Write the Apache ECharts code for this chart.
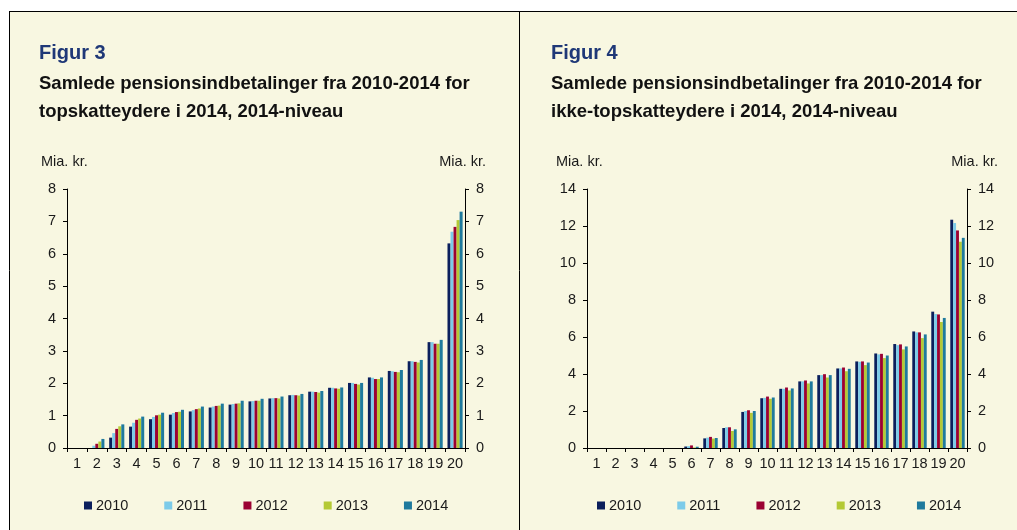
<!DOCTYPE html>
<html><head><meta charset="utf-8">
<script src="https://cdn.jsdelivr.net/npm/echarts@6/dist/echarts.min.js"></script>
<style>html,body{margin:0;padding:0;background:#fff}#c{width:1017px;height:530px}</style>
</head><body><div id="c"></div>
<script>
var categories = ['1','2','3','4','5','6','7','8','9','10','11','12','13','14','15','16','17','18','19','20'];
var years = ['2010','2011','2012','2013','2014'];
var colors = ['#0B1F5C','#7CCBE9','#9B0132','#B4C935','#1F7A9D'];

// Figur 3: topskatteydere (Mia. kr.)
var top2010 = [0,0.00,0.32,0.66,0.89,1.03,1.13,1.25,1.34,1.44,1.53,1.63,1.74,1.86,2.01,2.18,2.38,2.68,3.27,6.32];
var top2011 = [0,0.07,0.46,0.78,0.96,1.08,1.17,1.28,1.36,1.45,1.54,1.64,1.74,1.86,2.01,2.17,2.37,2.68,3.27,6.68];
var top2012 = [0,0.13,0.59,0.87,1.01,1.11,1.20,1.30,1.37,1.46,1.54,1.63,1.73,1.84,1.98,2.13,2.35,2.66,3.22,6.83];
var top2013 = [0,0.20,0.67,0.91,1.03,1.12,1.22,1.31,1.38,1.46,1.53,1.62,1.71,1.83,1.96,2.13,2.34,2.64,3.22,7.04];
var top2014 = [0,0.28,0.73,0.97,1.09,1.18,1.28,1.37,1.46,1.52,1.59,1.67,1.76,1.87,2.01,2.18,2.41,2.72,3.34,7.30];

// Figur 4: ikke-topskatteydere (Mia. kr.)
var ikke2010 = [0,0,0,0,0,0.08,0.52,1.08,1.95,2.69,3.20,3.60,3.94,4.30,4.68,5.11,5.62,6.30,7.37,12.34];
var ikke2011 = [0,0,0,0,0,0.10,0.56,1.12,2.00,2.71,3.20,3.60,3.94,4.30,4.66,5.06,5.56,6.25,7.24,12.16];
var ikke2012 = [0,0,0,0,0,0.14,0.60,1.12,2.04,2.78,3.27,3.65,3.99,4.35,4.68,5.09,5.60,6.25,7.22,11.76];
var ikke2013 = [0,0,0,0,0,0.03,0.51,0.92,1.90,2.66,3.11,3.49,3.81,4.15,4.48,4.86,5.33,5.94,6.81,11.15];
var ikke2014 = [0,0,0,0,0,0.07,0.54,1.01,2.00,2.73,3.22,3.60,3.94,4.28,4.62,5.00,5.49,6.14,7.03,11.36];

var topSeries = [top2010, top2011, top2012, top2013, top2014];
var ikkeSeries = [ikke2010, ikke2011, ikke2012, ikke2013, ikke2014];

var FF = 'Liberation Sans, Arial, sans-serif';
var chart = echarts.init(document.getElementById('c'), null, {renderer:'canvas'});

function xAxis(gi){
  return {type:'category', gridIndex:gi, data:categories, boundaryGap:true,
    axisLine:{lineStyle:{color:'#000',width:1}},
    axisTick:{show:true, alignWithLabel:false, length:4, lineStyle:{color:'#000'}},
    axisLabel:{color:'#1a1a1a', fontSize:14.5, fontFamily:FF, margin:8, interval:0}};
}
function yAxis(gi, max, interval, pos){
  return {type:'value', gridIndex:gi, min:0, max:max, interval:interval, position:pos,
    splitLine:{show:false},
    axisLine:{show:true, lineStyle:{color:'#000',width:1}},
    axisTick:{show:true, length:4, lineStyle:{color:'#000'}},
    axisLabel:{color:'#1a1a1a', fontSize:14.5, fontFamily:FF, margin:11}};
}

var series = [];
years.forEach(function(y,i){
  series.push({name:y, type:'bar', xAxisIndex:0, yAxisIndex:0, data:topSeries[i],
    itemStyle:{color:colors[i]}, barGap:'0%', barCategoryGap:'24%', silent:true});
});
years.forEach(function(y,i){
  series.push({name:y, type:'bar', xAxisIndex:1, yAxisIndex:2, data:ikkeSeries[i],
    itemStyle:{color:colors[i]}, barGap:'0%', barCategoryGap:'24%', silent:true});
});

function legend(left){
  return {left:left, top:493, icon:'rect', itemWidth:8, itemHeight:8, itemGap:36,
    data:years, textStyle:{color:'#1a1a1a', fontSize:14.5, fontFamily:FF, padding:[0,0,0,-1]}, selectedMode:false};
}

function txt(x, y, s, font, fill, align){
  return {type:'text', x:x, y:y, style:{text:s, font:font, fill:fill, align:align||'left', verticalAlign:'middle'}};
}
var TF = 'bold 20px ' + FF, SF = 'bold 18.5px ' + FF, UF = '14.5px ' + FF;

var option = {
  backgroundColor:'#ffffff',
  animation:false,
  graphic:[
    {type:'rect', shape:{x:9, y:11, width:1008, height:519}, style:{fill:'#F8F7E1'}, z:-10},
    {type:'line', shape:{x1:9, y1:11.5, x2:1017, y2:11.5}, style:{stroke:'#000', lineWidth:1}},
    {type:'line', shape:{x1:9.5, y1:11, x2:9.5, y2:530}, style:{stroke:'#000', lineWidth:1}},
    {type:'line', shape:{x1:519.5, y1:11, x2:519.5, y2:530}, style:{stroke:'#000', lineWidth:1}},
    txt(39, 53, 'Figur 3', TF, '#1F3877'),
    txt(39, 84, 'Samlede pensionsindbetalinger fra 2010-2014 for', SF, '#111'),
    txt(39, 112, 'topskatteydere i 2014, 2014-niveau', SF, '#111'),
    txt(41, 162, 'Mia. kr.', UF, '#1a1a1a'),
    txt(486, 162, 'Mia. kr.', UF, '#1a1a1a', 'right'),
    txt(551, 53, 'Figur 4', TF, '#1F3877'),
    txt(551, 84, 'Samlede pensionsindbetalinger fra 2010-2014 for', SF, '#111'),
    txt(551, 112, 'ikke-topskatteydere i 2014, 2014-niveau', SF, '#111'),
    txt(556, 162, 'Mia. kr.', UF, '#1a1a1a'),
    txt(998, 162, 'Mia. kr.', UF, '#1a1a1a', 'right')
  ],
  grid:[
    {left:67, right:552, top:189, bottom:82},
    {left:587, right:50, top:189, bottom:82}
  ],
  xAxis:[xAxis(0), xAxis(1)],
  yAxis:[yAxis(0,8,1,'left'), yAxis(0,8,1,'right'), yAxis(1,14,2,'left'), yAxis(1,14,2,'right')],
  legend:[legend(79), legend(592)],
  series:series
};
chart.setOption(option);
</script>
</body></html>
